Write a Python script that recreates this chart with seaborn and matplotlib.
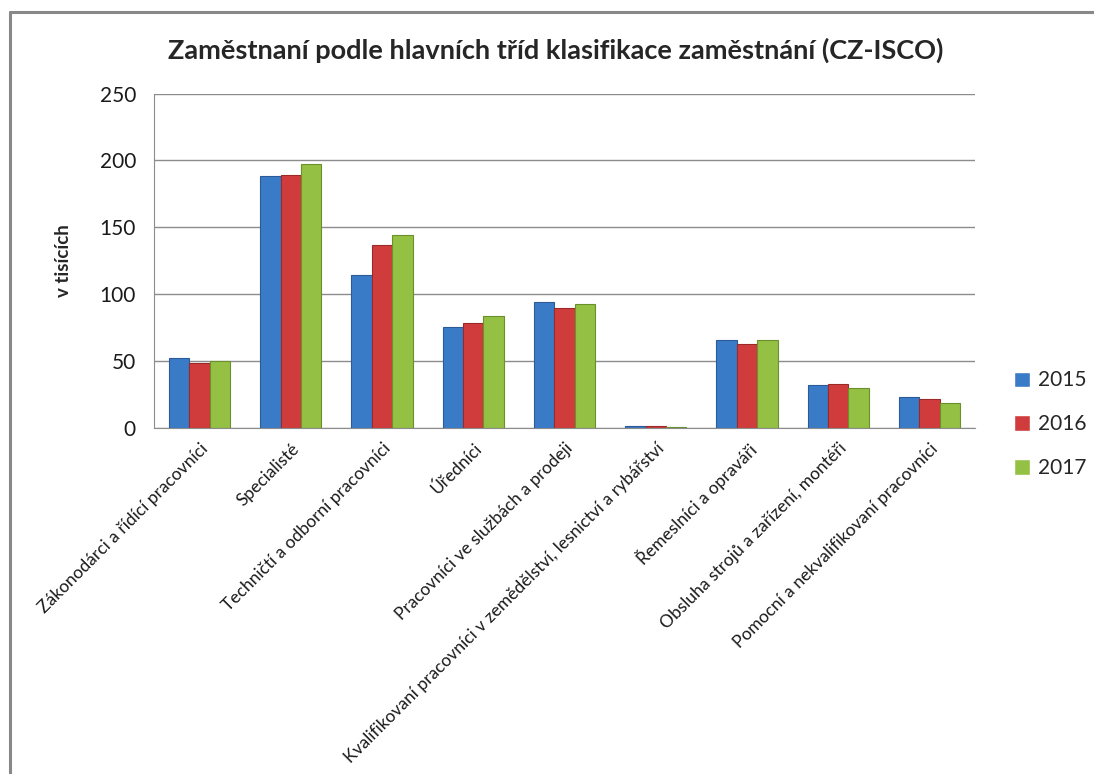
import pandas as pd
import matplotlib.pyplot as plt
import matplotlib.lines as mlines
from matplotlib.ticker import FixedLocator
import seaborn as sns

# =========================
# DATA (v tisících)
# =========================

categories = [
    "Zákonodárci a řídící pracovníci",
    "Specialisté",
    "Techničtí a odborní pracovníci",
    "Úředníci",
    "Pracovníci ve službách a prodeji",
    "Kvalifikovaní pracovníci v zemědělství, lesnictví a rybářství",
    "Řemeslníci a opraváři",
    "Obsluha strojů a zařízení, montéři",
    "Pomocní a nekvalifikovaní pracovníci",
]
years = ["2015", "2016", "2017"]
values_2015 = [52.0, 188.4, 114.1, 75.7, 94.1, 1.5, 65.6, 32.2, 23.0]
values_2016 = [48.2, 189.3, 136.8, 78.4, 89.9, 1.5, 62.4, 32.9, 21.5]
values_2017 = [50.0, 197.5, 143.8, 83.4, 92.6, 0.6, 65.6, 29.7, 18.7]
y_ticks = [0, 50, 100, 150, 200, 250]

df = pd.DataFrame({
    "kategorie": categories * 3,
    "rok": [y for y in years for _ in categories],
    "hodnota": values_2015 + values_2016 + values_2017,
})

# =========================
# STYLE
# =========================

sns.set_style("white")
plt.rcParams["font.family"] = ["Lato", "DejaVu Sans"]

palette = {"2015": "#3a7bc8", "2016": "#d03c3c", "2017": "#94c043"}
edges = {"2015": "#2a5b97", "2016": "#9a2a2a", "2017": "#6a8f2c"}

fig = plt.figure(figsize=(10.94, 7.74), dpi=100)
ax = fig.add_axes([154 / 1094, 1 - 427.7 / 774, (975 - 154) / 1094, (427.7 - 93.5) / 774])

sns.barplot(
    data=df, x="kategorie", y="hodnota", hue="rok",
    palette=palette, saturation=1, width=0.67, ax=ax, legend=True,
)

# darker edges per series
for cont, yr in zip(ax.containers, years):
    for bar in cont:
        bar.set_edgecolor(edges[yr])
        bar.set_linewidth(0.8)

# =========================
# AXES
# =========================

ax.set_xlim(-0.5, len(categories) - 0.5)
ax.set_ylim(0, 250)
ax.set_yticks(y_ticks)
ax.yaxis.grid(True, color="#8c8c8c", linewidth=1)
ax.set_axisbelow(True)

for side in ["top", "right"]:
    ax.spines[side].set_visible(False)
ax.spines["left"].set_color("#8c8c8c")
ax.spines["bottom"].set_color("#8c8c8c")

ax.set_xticks(range(len(categories)))
ax.set_xticklabels(categories, rotation=45, ha="right", rotation_mode="anchor",
                   fontsize=12.5, color="#1a1a1a")
ax.tick_params(axis="x", which="major", length=0, pad=9)
ax.xaxis.set_minor_locator(FixedLocator([i - 0.5 for i in range(len(categories) + 1)]))
ax.tick_params(axis="x", which="minor", length=6, color="#8c8c8c", direction="out")
ax.tick_params(axis="y", length=6, color="#8c8c8c", labelsize=15, labelcolor="#1a1a1a", pad=7)

ax.set_xlabel("")
ax.set_ylabel("v tisících", fontsize=13.5, fontweight="bold", labelpad=20)

fig.suptitle("Zaměstnaní podle hlavních tříd klasifikace zaměstnání (CZ-ISCO)",
             x=0.508, y=1 - 50 / 774, va="center", fontsize=19.5, fontweight="bold")

# =========================
# LEGEND
# =========================

ax.legend(
    loc="center left", bbox_to_anchor=(1.025, 0.01), frameon=False,
    fontsize=15, handlelength=0.75, handleheight=0.75, handletextpad=0.4,
    labelspacing=1.15,
)

# chart border
fig.add_artist(mlines.Line2D([10 / 1094, 10 / 1094], [0, 1 - 12 / 774],
                             color="#888888", linewidth=2.2, transform=fig.transFigure))
fig.add_artist(mlines.Line2D([10 / 1094, 1], [1 - 12 / 774, 1 - 12 / 774],
                             color="#888888", linewidth=2.2, transform=fig.transFigure))

plt.savefig("out.png", dpi=100)
